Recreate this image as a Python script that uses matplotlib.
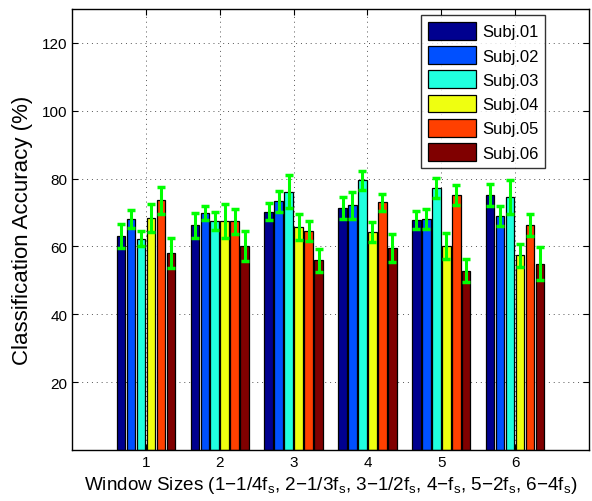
import numpy as np
import matplotlib
matplotlib.use('Agg')
import matplotlib.pyplot as plt

plt.rcParams['font.family'] = ['Liberation Sans', 'DejaVu Sans']
plt.rcParams['mathtext.fontset'] = 'custom'
plt.rcParams['mathtext.rm'] = 'Liberation Sans'
plt.rcParams['mathtext.it'] = 'Liberation Sans:italic'

windows = [1, 2, 3, 4, 5, 6]
subjects = ['Subj.01', 'Subj.02', 'Subj.03', 'Subj.04', 'Subj.05', 'Subj.06']
colors = ['#00008F', '#0050FF', '#20FFDF', '#EFFF10', '#FF4000', '#800000']

# mean accuracy per subject, one value per window size
subj01 = [63.0, 66.2, 70.2, 71.4, 67.9, 75.1]
subj02 = [68.1, 69.9, 73.3, 72.1, 68.2, 68.9]
subj03 = [62.3, 67.6, 76.1, 79.5, 77.2, 74.5]
subj04 = [68.3, 67.6, 65.7, 64.3, 60.1, 57.4]
subj05 = [73.6, 67.4, 64.5, 73.1, 75.1, 66.3]
subj06 = [58.1, 60.1, 55.9, 59.6, 52.9, 54.9]

# error bar half-lengths
err01 = [3.5, 3.8, 2.5, 3.3, 2.6, 3.3]
err02 = [2.6, 2.0, 3.0, 4.0, 2.9, 3.0]
err03 = [2.2, 2.7, 4.9, 2.8, 3.0, 5.0]
err04 = [4.1, 5.0, 3.9, 2.9, 3.8, 3.4]
err05 = [4.0, 3.7, 3.0, 2.5, 3.0, 3.3]
err06 = [4.4, 4.4, 3.4, 4.2, 3.3, 4.9]

means = [subj01, subj02, subj03, subj04, subj05, subj06]
errs = [err01, err02, err03, err04, err05, err06]

fig = plt.figure(figsize=(5.92, 5.02), dpi=100)
ax = fig.add_axes([0.1216, 0.1016, 0.8734, 0.8784])

x = np.array(windows)
step = 0.135
w = 0.115
for i in range(6):
    pos = x + (i - 2.5) * step
    ax.bar(pos, means[i], width=w, color=colors[i], edgecolor='black',
           linewidth=0.9, label=subjects[i], zorder=2)
    ax.errorbar(pos, means[i], yerr=errs[i], fmt='none', ecolor='#00FF00',
                elinewidth=2.2, capsize=3.0, capthick=2.5, zorder=3)

ax.set_xlim(0, 7)
ax.set_ylim(0, 130)
ax.set_xticks(windows)
ax.set_yticks([20, 40, 60, 80, 100, 120])
ax.tick_params(direction='in', top=True, right=True, labelsize=11, length=4)
ax.grid(True, linestyle=(0, (1, 4)), color='#555555', linewidth=0.7, zorder=0)
ax.set_axisbelow(True)
for s in ax.spines.values():
    s.set_linewidth(1.0)

ax.set_ylabel('Classification Accuracy (%)', fontsize=16, labelpad=6)
ax.set_xlabel(r'Window Sizes (1$-$1/4f$_\mathrm{s}$, 2$-$1/3f$_\mathrm{s}$, 3$-$1/2f$_\mathrm{s}$, '
              r'4$-$f$_\mathrm{s}$, 5$-$2f$_\mathrm{s}$, 6$-$4f$_\mathrm{s}$)', fontsize=13.6, labelpad=4)

leg = ax.legend(loc='upper right', bbox_to_anchor=(0.915, 0.986), borderaxespad=0,
                fontsize=12, frameon=True, fancybox=False, edgecolor='black',
                handlelength=2.9, handleheight=1.25, borderpad=0.4, labelspacing=0.4,
                handletextpad=0.35)
leg.get_frame().set_linewidth(1.0)

fig.savefig('out.png', dpi=100)
